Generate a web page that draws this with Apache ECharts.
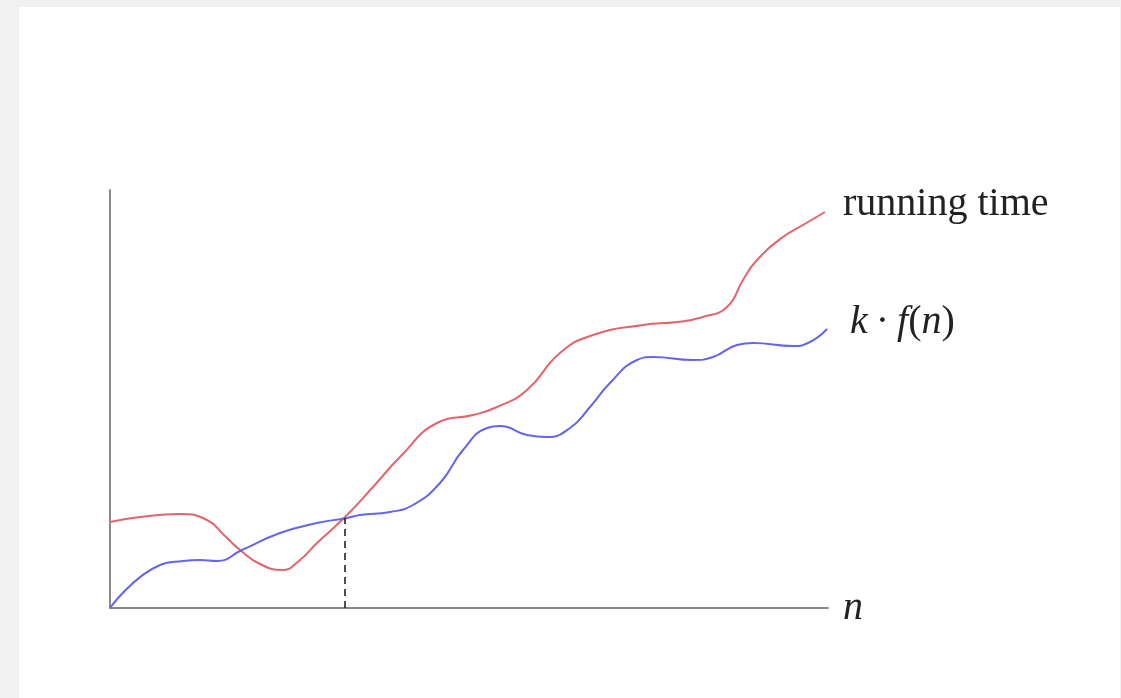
<!DOCTYPE html>
<html>
<head>
<meta charset="utf-8">
<script src="https://cdn.jsdelivr.net/npm/echarts@6/dist/echarts.min.js"></script>
<style>
  html, body { margin: 0; padding: 0; background: #f1f1f1; }
  #panel { position: absolute; left: 19px; top: 7px; width: 1101px; height: 691px; background: #ffffff; }
  #chart { position: absolute; left: 0; top: 0; width: 1121px; height: 698px; }
</style>
</head>
<body>
<div id="panel"></div>
<div id="chart"></div>
<script>
// x positions (arbitrary units of n) and values (arbitrary units of time)
const runningX = [0, 30, 70, 97, 115, 130, 150, 172, 190, 207, 235, 263, 290, 327, 363, 387, 417, 450, 483, 533, 567, 593, 617, 633, 647, 673, 693, 715];
const runningY = [86, 91, 94, 88, 72, 58, 44, 38, 48, 65, 91, 121, 151, 185, 193, 201, 218, 255, 273, 283, 286, 291, 301, 328, 348, 371, 383, 396];
const boundX = [0, 50, 73, 90, 107, 132, 170, 207, 237, 250, 280, 303, 330, 353, 377, 390, 417, 437, 460, 480, 500, 527, 543, 583, 603, 627, 643, 683, 700, 717];
const boundY = [0, 43, 47, 48, 47, 58, 75, 85, 90, 93, 96, 103, 125, 158, 180, 182, 173, 171, 180, 201, 225, 248, 251, 248, 251, 263, 265, 262, 266, 279];
const crossPoint = [235, 90];     // n0 where k·f(n) overtakes running time
const axisMax = [718, 418];       // x max, y max
const labels = { running: 'running time', xName: 'n' };

const zip = (xs, ys) => xs.map((x, i) => [x, ys[i]]);

const chart = echarts.init(document.getElementById('chart'), null, { renderer: 'canvas' });
const serif = '"Liberation Serif", "DejaVu Serif", serif';

chart.setOption({
  backgroundColor: 'transparent',
  animation: false,
  grid: { left: 110, right: 293, top: 190, bottom: 90, containLabel: false },
  xAxis: {
    type: 'value', min: 0, max: axisMax[0],
    name: labels.xName, nameLocation: 'end', nameGap: 15,
    nameTextStyle: { fontFamily: serif, fontStyle: 'italic', fontSize: 40, color: '#222', verticalAlign: 'middle', padding: [0, 0, 2, 0] },
    axisLine: { show: true, lineStyle: { color: '#8a8a8a', width: 2 } },
    axisTick: { show: false }, axisLabel: { show: false }, splitLine: { show: false }
  },
  yAxis: {
    type: 'value', min: 0, max: axisMax[1],
    axisLine: { show: true, lineStyle: { color: '#8a8a8a', width: 2 } },
    axisTick: { show: false }, axisLabel: { show: false }, splitLine: { show: false }
  },
  series: [
    {
      name: labels.running, type: 'line', smooth: 0.5, symbol: 'none',
      data: zip(runningX, runningY),
      lineStyle: { color: '#e2646d', width: 2 },
      endLabel: {
        show: true, formatter: labels.running, offset: [10, -8],
        fontFamily: serif, fontSize: 40, color: '#222'
      }
    },
    {
      name: 'k · f(n)', type: 'line', smooth: 0.5, symbol: 'none',
      data: zip(boundX, boundY),
      lineStyle: { color: '#6464ec', width: 2 },
      endLabel: {
        show: true, offset: [15, -7],
        formatter: '{i|k}\u2009·\u2009{i|f}({i|n})',
        fontFamily: serif, fontSize: 40, color: '#222',
        rich: { i: { fontFamily: serif, fontStyle: 'italic', fontSize: 40, color: '#222' } }
      },
      markLine: {
        silent: true, symbol: 'none', label: { show: false },
        lineStyle: { color: '#222', type: [7, 5], width: 1.6 },
        data: [[{ coord: [crossPoint[0], 0] }, { coord: [crossPoint[0], crossPoint[1]] }]]
      }
    }
  ]
});
</script>
</body>
</html>
